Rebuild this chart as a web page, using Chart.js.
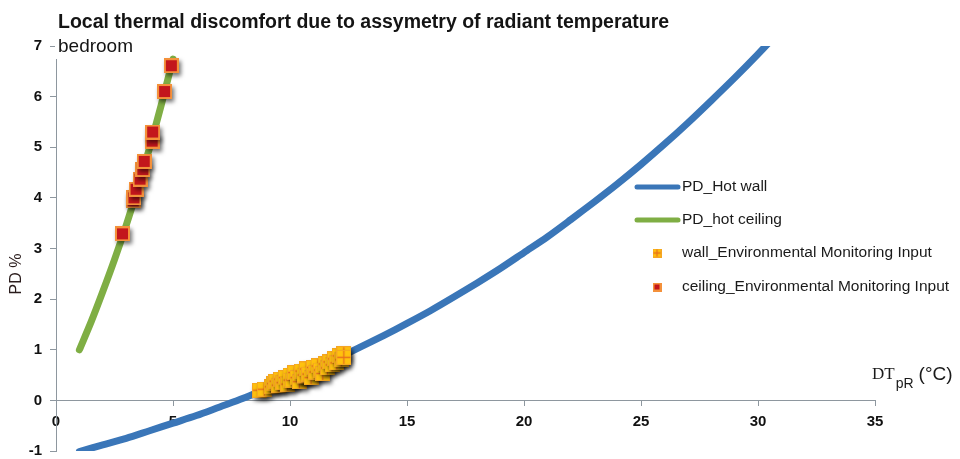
<!DOCTYPE html>
<html>
<head>
<meta charset="utf-8">
<script src="https://cdn.jsdelivr.net/npm/chart.js@4.4.1/dist/chart.umd.min.js"></script>
<style>
  html, body { margin: 0; padding: 0; background: #fff; }
  canvas { display: block; }
</style>
</head>
<body>
<canvas id="chart" width="960" height="459"></canvas>
<script>
const titleText = 'Local thermal discomfort due to assymetry of radiant temperature';
const subtitleText = 'bedroom';

// PD_Hot wall curve
const hotWallDt = [1, 2, 3, 4, 5, 6, 7, 8, 9, 10, 11, 12, 13, 14, 15, 16, 17, 18, 19, 20, 21, 22, 23, 24, 25, 26, 27, 28, 29, 30, 31];
const hotWallPd = [-1.01, -0.88, -0.75, -0.6, -0.45, -0.3, -0.13, 0.04, 0.23, 0.42, 0.62, 0.83, 1.05, 1.28, 1.52, 1.77, 2.04, 2.32, 2.61, 2.92, 3.23, 3.57, 3.92, 4.28, 4.66, 5.06, 5.48, 5.92, 6.37, 6.84, 7.33];

// PD_hot ceiling curve
const hotCeilingDt = [1, 1.5, 2, 2.5, 3, 3.5, 4, 4.5, 5];
const hotCeilingPd = [1.0, 1.55, 2.15, 2.78, 3.46, 4.2, 4.99, 5.84, 6.74];

// measured points, wall
const wallDt = [8.7, 8.9, 9.2, 9.3, 9.4, 9.5, 9.6, 9.7, 9.8, 9.9, 10.0, 10.0, 10.1, 10.2, 10.3, 10.4, 10.5, 10.6, 10.6, 10.7, 10.8, 10.9, 11.0, 11.1, 11.2, 11.3, 11.4, 11.5, 11.6, 11.7, 11.8, 11.9, 12.0, 12.1, 12.2, 12.3, 12.3];
const wallPd = [0.2, 0.22, 0.27, 0.33, 0.38, 0.3, 0.42, 0.35, 0.45, 0.32, 0.5, 0.4, 0.4, 0.55, 0.45, 0.37, 0.58, 0.48, 0.5, 0.62, 0.52, 0.45, 0.65, 0.56, 0.68, 0.6, 0.53, 0.72, 0.64, 0.76, 0.7, 0.82, 0.74, 0.88, 0.8, 0.92, 0.85];

// measured points, ceiling
const ceilingDt = [2.84, 3.3, 3.33, 3.42, 3.59, 3.71, 3.77, 4.11, 4.13, 4.64, 4.93];
const ceilingPd = [3.29, 3.94, 4.0, 4.17, 4.37, 4.56, 4.72, 5.12, 5.3, 6.1, 6.61];

const xRange = [0, 35];
const yRange = [-1, 7];

const blue = '#3A76B8';
const green = '#7FAE44';
const axisGrey = '#8E979F';
const font = '"Liberation Sans", Arial, sans-serif';

function toPoints(xs, ys) {
  return xs.map((x, i) => ({ x: x, y: ys[i] }));
}

function makeMarker(kind, size) {
  const c = document.createElement('canvas');
  c.width = size;
  c.height = size;
  const g = c.getContext('2d');
  if (kind == 'wall') {
    g.fillStyle = '#FFC20E';
    g.fillRect(0, 0, size, size);
    g.strokeStyle = '#F5A623';
    g.lineWidth = 1;
    g.strokeRect(0.5, 0.5, size - 1, size - 1);
    g.strokeStyle = '#E8721C';
    g.lineWidth = 1.3;
    g.beginPath();
    g.moveTo(size / 2, 1);
    g.lineTo(size / 2, size - 1);
    g.moveTo(1, size / 2);
    g.lineTo(size - 1, size / 2);
    g.stroke();
  } else {
    g.fillStyle = '#F4913B';
    g.fillRect(0, 0, size, size);
    g.fillStyle = '#C3161C';
    g.fillRect(2, 2, size - 4, size - 4);
  }
  return c;
}

const wallMarker = makeMarker('wall', 15);
const ceilingMarker = makeMarker('ceiling', 15);
const wallMarkerSmall = makeMarker('wall', 9);
const ceilingMarkerSmall = makeMarker('ceiling', 9);

const legendItems = [
  { label: 'PD_Hot wall', line: blue, y: 187 },
  { label: 'PD_hot ceiling', line: green, y: 220 },
  { label: 'wall_Environmental Monitoring Input', marker: wallMarkerSmall, y: 253 },
  { label: 'ceiling_Environmental Monitoring Input', marker: ceilingMarkerSmall, y: 287 },
];

// drop shadow under the marker series
const markerShadow = {
  id: 'markerShadow',
  beforeDatasetDraw(chart, args) {
    if (chart.data.datasets[args.index].showLine) return;
    const ctx = chart.ctx;
    ctx.save();
    ctx.shadowColor = 'rgba(0,0,0,0.55)';
    ctx.shadowBlur = 4;
    ctx.shadowOffsetX = 2;
    ctx.shadowOffsetY = 3;
  },
  afterDatasetDraw(chart, args) {
    if (chart.data.datasets[args.index].showLine) return;
    chart.ctx.restore();
  }
};

const annotations = {
  id: 'annotations',
  afterDraw(chart) {
    const ctx = chart.ctx;
    ctx.save();
    // subtitle box hides the top of the axis
    ctx.fillStyle = '#fff';
    ctx.fillRect(55, 33, 90, 26);

    ctx.fillStyle = '#141414';
    ctx.textAlign = 'left';
    ctx.textBaseline = 'alphabetic';
    ctx.font = 'bold 19.5px ' + font;
    ctx.fillText(titleText, 58, 28);
    ctx.font = '19px ' + font;
    ctx.fillText(subtitleText, 58, 52);

    // axis titles
    ctx.save();
    ctx.translate(17, 274);
    ctx.rotate(-Math.PI / 2);
    ctx.textAlign = 'center';
    ctx.textBaseline = 'middle';
    ctx.font = '16px ' + font;
    ctx.fillStyle = '#2a1c1c';
    ctx.fillText('PD %', 0, 0);
    ctx.restore();

    let x = 872;
    ctx.fillStyle = '#1a1a1a';
    ctx.font = '17px "Liberation Serif", "Times New Roman", serif';
    ctx.fillText('DT', x, 379);
    x += ctx.measureText('DT').width + 1;
    ctx.font = '14px ' + font;
    ctx.fillText('pR', x, 388);
    x += ctx.measureText('pR').width + 5;
    ctx.font = '19px ' + font;
    ctx.fillText('(°C)', x, 380);

    // legend
    ctx.textBaseline = 'middle';
    ctx.font = '15.5px ' + font;
    legendItems.forEach((item) => {
      if (item.line) {
        ctx.strokeStyle = item.line;
        ctx.lineWidth = 5;
        ctx.lineCap = 'round';
        ctx.beginPath();
        ctx.moveTo(637, item.y);
        ctx.lineTo(678, item.y);
        ctx.stroke();
      } else {
        ctx.drawImage(item.marker, 657 - item.marker.width / 2, item.y - item.marker.height / 2);
      }
      ctx.fillStyle = '#1a1a1a';
      ctx.fillText(item.label, 682, item.y);
    });
    ctx.restore();
  }
};

new Chart(document.getElementById('chart'), {
  type: 'scatter',
  data: {
    datasets: [
      {
        label: 'wall_Environmental Monitoring Input',
        data: toPoints(wallDt, wallPd),
        pointStyle: wallMarker,
        order: 1,
      },
      {
        label: 'ceiling_Environmental Monitoring Input',
        data: toPoints(ceilingDt, ceilingPd),
        pointStyle: ceilingMarker,
        order: 1,
      },
      {
        label: 'PD_Hot wall',
        data: toPoints(hotWallDt, hotWallPd),
        showLine: true,
        borderColor: blue,
        borderWidth: 7,
        borderCapStyle: 'round',
        borderJoinStyle: 'round',
        tension: 0.3,
        pointRadius: 0,
        order: 2,
      },
      {
        label: 'PD_hot ceiling',
        data: toPoints(hotCeilingDt, hotCeilingPd),
        showLine: true,
        borderColor: green,
        borderWidth: 7,
        borderCapStyle: 'round',
        borderJoinStyle: 'round',
        tension: 0.3,
        pointRadius: 0,
        order: 2,
      },
    ]
  },
  options: {
    responsive: false,
    animation: false,
    layout: { padding: { left: 10, right: 85, top: 46, bottom: 8 } },
    plugins: {
      legend: { display: false },
      tooltip: { enabled: false },
    },
    scales: {
      x: {
        type: 'linear',
        position: { y: 0 },
        min: xRange[0],
        max: xRange[1],
        ticks: { stepSize: 5, color: '#111', padding: 7, font: { family: font, size: 15, weight: 'bold' } },
        grid: { drawOnChartArea: false, drawTicks: true, tickLength: 5, color: axisGrey },
        border: { color: axisGrey, width: 1 },
      },
      y: {
        type: 'linear',
        position: 'left',
        min: yRange[0],
        max: yRange[1],
        afterFit(scale) {
          scale.width = 46;
          scale.paddingTop = 0;
          scale.paddingBottom = 0;
        },
        ticks: { stepSize: 1, color: '#111', padding: 8, font: { family: font, size: 15, weight: 'bold' } },
        grid: { drawOnChartArea: false, drawTicks: true, tickLength: 6, color: axisGrey },
        border: { color: axisGrey, width: 1 },
      }
    }
  },
  plugins: [markerShadow, annotations]
});
</script>
</body>
</html>
